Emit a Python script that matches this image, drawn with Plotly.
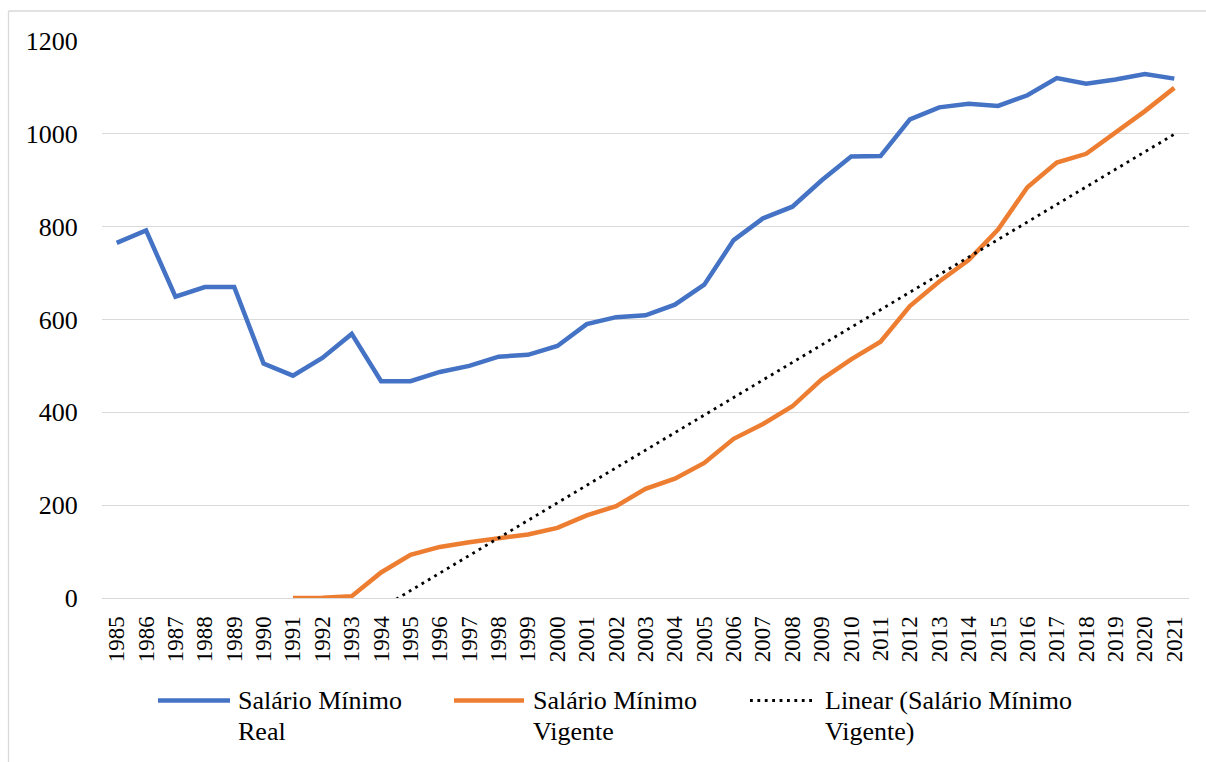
import numpy as np
import plotly.graph_objects as go

# ---- data ----
years = list(range(1985, 2022))
salario_real = [765, 792, 649, 670, 670, 505, 479, 517, 569, 467, 467, 487, 500, 520, 524,
                543, 590, 605, 609, 632, 675, 771, 818, 843, 900, 951, 952, 1031, 1057, 1065,
                1060, 1083, 1120, 1108, 1117, 1129, 1119]
salario_vigente = [None, None, None, None, None, None, 0, 0.5, 4, 55, 93, 110, 120, 128, 137,
                   151, 178, 198, 235, 257, 291, 343, 375, 413, 471, 514, 552, 629, 682, 728,
                   794, 885, 938, 957, 1002, 1049, 1099]
tick_labels = [str(y) for y in years]
y_ticks = [0, 200, 400, 600, 800, 1000, 1200]

name_real = "Salário Mínimo Real"
name_vig = "Salário Mínimo Vigente"
name_lin = "Linear (Salário Mínimo Vigente)"

# linear trendline fitted on the Vigente series
xs = np.array([y for y, v in zip(years, salario_vigente) if v is not None], dtype=float)
vs = np.array([v for v in salario_vigente if v is not None], dtype=float)
slope, intercept = np.polyfit(xs, vs, 1)
trend_x = [years[0], years[-1]]
trend_y = [slope * x + intercept for x in trend_x]

BLUE = "#4472C4"
ORANGE = "#ED7D31"
GRID = "#D9D9D9"
FONT = "Liberation Serif, Times New Roman, DejaVu Serif, serif"
FS = 26

W, H = 1206, 762
L, R, T, B = 102, 1189, 41, 598  # plot area in pixels

def px_x(p):
    return (p - L) / (R - L)

def px_y(p):
    return (B - p) / (B - T)

fig = go.Figure()
fig.add_trace(go.Scatter(x=years, y=salario_real, mode="lines", name=name_real,
                         line=dict(color=BLUE, width=4.5), showlegend=False))
fig.add_trace(go.Scatter(x=years, y=salario_vigente, mode="lines", name=name_vig,
                         line=dict(color=ORANGE, width=4.5), connectgaps=False, showlegend=False))
fig.add_trace(go.Scatter(x=trend_x, y=trend_y, mode="lines", name=name_lin,
                         line=dict(color="black", width=2.8, dash="2.8px,4.6px"), showlegend=False))

fig.update_layout(
    width=W, height=H,
    margin=dict(l=L, r=W - R, t=T, b=H - B, pad=0),
    paper_bgcolor="white", plot_bgcolor="white",
    font=dict(family=FONT, size=FS, color="black"),
    xaxis=dict(range=[1984.5, 2021.5], tickmode="array", tickvals=years, ticktext=tick_labels,
               tickangle=-90, showgrid=False, zeroline=False, showline=False,
               ticks="outside", ticklen=8, tickcolor="rgba(0,0,0,0)",
               tickfont=dict(family=FONT, size=23, color="black")),
    yaxis=dict(range=[0, 1200], tickmode="array", tickvals=y_ticks,
               showgrid=True, gridcolor=GRID, gridwidth=1.3,
               zeroline=True, zerolinecolor=GRID, zerolinewidth=1.3, showline=False,
               ticks="outside", ticklen=18, tickcolor="rgba(0,0,0,0)",
               tickfont=dict(family=FONT, size=FS, color="black")),
)

shapes = []
# outer chart border (left and top visible in reference)
shapes.append(dict(type="line", xref="paper", yref="paper", x0=px_x(8.5), x1=px_x(8.5),
                   y0=px_y(11), y1=px_y(780), line=dict(color=GRID, width=1.3)))
shapes.append(dict(type="line", xref="paper", yref="paper", x0=px_x(8.5), x1=px_x(1220),
                   y0=px_y(11), y1=px_y(11), line=dict(color=GRID, width=1.3)))

# custom legend
legend_items = [
    (158, 230, 236, "Salário Mínimo", "Real", dict(color=BLUE, width=4.5)),
    (454, 524, 531, "Salário Mínimo", "Vigente", dict(color=ORANGE, width=4.5)),
    (750, 816, 823, "Linear (Salário Mínimo", "Vigente)", dict(color="black", width=2.8, dash="2.8px,4.6px")),
]
annotations = []
for x0, x1, tx, l1, l2, ln in legend_items:
    shapes.append(dict(type="line", xref="paper", yref="paper", x0=px_x(x0), x1=px_x(x1),
                       y0=px_y(700.5), y1=px_y(700.5), line=ln))
    annotations.append(dict(xref="paper", yref="paper", x=px_x(tx), y=px_y(700), text=l1,
                            showarrow=False, xanchor="left", yanchor="middle",
                            font=dict(family=FONT, size=FS, color="black")))
    annotations.append(dict(xref="paper", yref="paper", x=px_x(tx), y=px_y(731), text=l2,
                            showarrow=False, xanchor="left", yanchor="middle",
                            font=dict(family=FONT, size=FS, color="black")))

fig.update_layout(shapes=shapes, annotations=annotations)
fig.write_html("out.html", config={"displayModeBar": False},
               post_script="document.body.style.margin='0';document.body.style.overflow='hidden';")
